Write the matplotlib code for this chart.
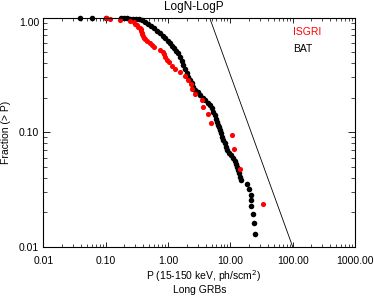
import matplotlib
matplotlib.use("Agg")
import matplotlib.pyplot as plt
from matplotlib.ticker import FixedLocator, LogLocator, NullFormatter

plt.rcParams['font.family'] = ['Liberation Sans', 'DejaVu Sans']

# BAT (black) cumulative distribution: peak flux P and fraction (> P)
bat_p = [0.0388, 0.0598, 0.1015, 0.177, 0.197, 0.221, 0.246, 0.275, 0.308, 0.344,
         0.384, 0.429, 0.479, 0.536, 0.598, 0.668, 0.747, 0.819, 0.898, 0.985,
         1.081, 1.164, 1.253, 1.349, 1.469, 1.564, 1.665, 1.767, 1.882, 2.003,
         2.125, 2.263, 2.410, 2.557, 2.723, 2.987, 3.275, 3.592, 3.940, 4.321,
         4.739, 5.104, 5.355, 5.598, 5.830, 6.072, 6.324, 6.611, 6.860, 7.118,
         7.441, 7.750, 8.072, 8.438, 8.788, 9.568, 10.30, 11.21, 11.72, 12.21,
         12.72, 13.34, 13.84, 14.37, 14.75, 18.81, 20.26, 21.18, 21.33, 21.57,
         22.97, 24.10, 25.19]
bat_f = [1.000, 0.997, 0.994, 0.990, 0.987, 0.983, 0.979, 0.974, 0.968, 0.961,
         0.942, 0.914, 0.881, 0.846, 0.810, 0.765, 0.728, 0.692, 0.658, 0.626,
         0.595, 0.567, 0.541, 0.515, 0.487, 0.452, 0.417, 0.385, 0.355, 0.328,
         0.304, 0.285, 0.267, 0.249, 0.233, 0.222, 0.211, 0.200, 0.191, 0.181,
         0.172, 0.161, 0.151, 0.141, 0.131, 0.123, 0.116, 0.110, 0.104, 0.0983,
         0.0915, 0.0853, 0.0798, 0.0746, 0.0698, 0.0660, 0.0625, 0.0591, 0.0558, 0.0528,
         0.0499, 0.0467, 0.0436, 0.0408, 0.0382, 0.0352, 0.0317, 0.0285, 0.0256, 0.0226,
         0.0193, 0.0160, 0.0128]

# ISGRI (red)
isgri_p = [0.100, 0.118, 0.170, 0.246, 0.281, 0.296, 0.316, 0.331, 0.350, 0.363,
           0.370, 0.380, 0.387, 0.396, 0.406, 0.429, 0.462, 0.507, 0.546, 0.598,
           0.733, 0.819, 0.866, 0.898, 0.967, 1.04, 1.15, 1.30, 1.56, 1.88,
           2.13, 2.32, 2.44, 2.72, 3.49, 3.70, 4.45, 4.86, 10.8, 11.5,
           14.4, 34.0]
isgri_f = [1.000, 0.976, 0.952, 0.929, 0.905, 0.881, 0.857, 0.833, 0.810, 0.786,
           0.762, 0.738, 0.714, 0.690, 0.667, 0.643, 0.619, 0.595, 0.571, 0.548,
           0.524, 0.500, 0.476, 0.452, 0.429, 0.405, 0.381, 0.357, 0.333, 0.310,
           0.286, 0.262, 0.238, 0.214, 0.190, 0.167, 0.143, 0.119, 0.0952, 0.0714,
           0.0476, 0.0238]

# Euclidean -3/2 reference line
euclid_p = [4.64, 100.0]
euclid_f = [1.0, 0.01]

x_ticks = [0.01, 0.1, 1, 10, 100, 1000]
x_ticklabels = ['0.01', '0.10', '1.00', '10.00', '100.00', '1000.00']
y_ticks = [0.01, 0.1, 1.0]
y_ticklabels = ['0.01', '0.10', '1.00']

W, H = 374, 298
fig = plt.figure(figsize=(W / 100, H / 100), dpi=100)
ax = fig.add_axes([43.3 / W, 1 - 246.7 / H, (355 - 43.3) / W, (246.7 - 17.5) / H])

ax.set_xscale('log')
ax.set_yscale('log')
ax.set_xlim(0.01, 1000)
ax.set_ylim(0.01, 1.0)

ax.plot(euclid_p, euclid_f, color='black', lw=0.6)
ax.plot(bat_p, bat_f, 'o', color='black', ms=4.0, mec='none', clip_on=False)
ax.plot(isgri_p, isgri_f, 'o', color='#ff0000', ms=3.7, mec='none', clip_on=False)

ax.xaxis.set_major_locator(FixedLocator(x_ticks))
ax.set_xticklabels(x_ticklabels)
ax.xaxis.set_minor_locator(LogLocator(base=10, subs=range(2, 10)))
ax.xaxis.set_minor_formatter(NullFormatter())
ax.yaxis.set_major_locator(FixedLocator(y_ticks))
ax.set_yticklabels(y_ticklabels)
ax.yaxis.set_minor_locator(LogLocator(base=10, subs=range(2, 10)))
ax.yaxis.set_minor_formatter(NullFormatter())

ax.tick_params(axis='x', which='major', direction='in', length=3.5, width=0.6,
               top=True, bottom=True, labelsize=7.5, pad=7)
ax.tick_params(axis='x', which='minor', direction='in', length=2, width=0.5,
               top=True, bottom=True)
ax.tick_params(axis='y', which='major', direction='in', length=5, width=0.6,
               left=True, right=True, labelsize=7.5, pad=3)
ax.tick_params(axis='y', which='minor', direction='in', length=3, width=0.5,
               left=True, right=True)
for s in ax.spines.values():
    s.set_linewidth(0.8)

labs = ax.get_yticklabels()
labs[2].set_va('top')

fig.text(194 / W, 1 - 7 / H, 'LogN-LogP', ha='center', va='center', fontsize=8.5)
fig.text(203.5 / W, 1 - 276 / H, 'P (15-150 keV, ph/scm$^2$)', ha='center', va='center',
         fontsize=7.5)
fig.text(200 / W, 1 - 290 / H, 'Long GRBs', ha='center', va='center', fontsize=7.5)
fig.text(6 / W, 1 - 132 / H, 'Fraction (> P)', ha='center', va='center', rotation=90,
         fontsize=7.5)
fig.text(293 / W, 1 - 32 / H, 'ISGRI', ha='left', va='center', fontsize=7.5, color='#ff0000')
fig.text(293 / W, 1 - 49 / H, 'BAT', ha='left', va='center', fontsize=7.5, color='black')

fig.savefig('out.png', dpi=100)
